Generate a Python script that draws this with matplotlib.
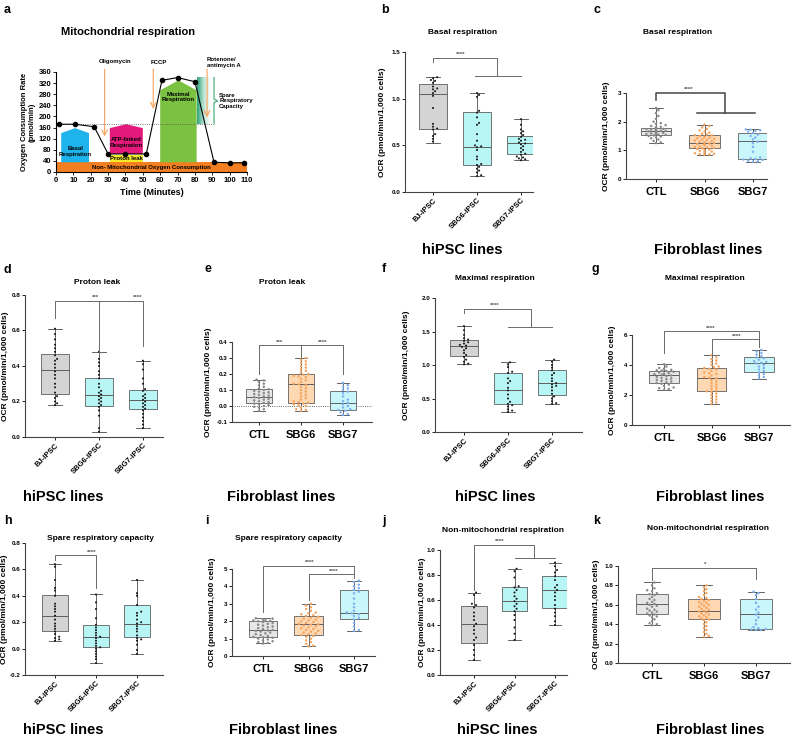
import numpy as np
import matplotlib
matplotlib.use("Agg")
import matplotlib.pyplot as plt
from matplotlib.patches import Polygon, Rectangle
from matplotlib.colors import LinearSegmentedColormap

plt.rcParams['font.family'] = ['Liberation Sans', 'DejaVu Sans']
plt.rcParams['font.weight'] = 'bold'

# ---------------- data ----------------
ipsc_groups = ['BJ-iPSC', 'SBG6-iPSC', 'SBG7-iPSC']
fibro_groups = ['CTL', 'SBG6', 'SBG7']

# Panel a: Seahorse trace
time_min = [2, 11, 22, 30, 40, 52, 61, 70, 80, 91, 100, 108]
ocr_trace = [172, 172, 163, 65, 65, 65, 330, 340, 325, 35, 33, 33]
time_ticks = [0, 10, 20, 30, 40, 50, 60, 70, 80, 90, 100, 110]
ocr_ticks = [0, 40, 80, 120, 160, 200, 240, 280, 320, 360]

# box stats per group: [whislo, q1, median, q3, whishi]
basal_ipsc_box = [[0.53, 0.68, 1.05, 1.16, 1.23], [0.17, 0.29, 0.48, 0.86, 1.06], [0.34, 0.41, 0.52, 0.60, 0.78]]
basal_ipsc_bj = [1.23, 1.22, 1.20, 1.19, 1.17, 1.13, 1.11, 1.10, 1.08, 1.06, 1.03, 0.90, 0.73, 0.70, 0.68, 0.67, 0.62, 0.60, 0.57, 0.54]
basal_ipsc_sbg6 = [1.06, 1.04, 1.02, 0.87, 0.85, 0.80, 0.74, 0.72, 0.62, 0.55, 0.50, 0.49, 0.48, 0.45, 0.38, 0.35, 0.30, 0.29, 0.27, 0.25, 0.23, 0.21, 0.18, 0.17]
basal_ipsc_sbg7 = [0.78, 0.72, 0.67, 0.65, 0.63, 0.61, 0.59, 0.57, 0.56, 0.55, 0.53, 0.52, 0.51, 0.49, 0.47, 0.45, 0.43, 0.41, 0.40, 0.38, 0.37, 0.36, 0.35, 0.34]

basal_fib_box = [[1.25, 1.55, 1.68, 1.78, 2.48], [0.85, 1.07, 1.25, 1.52, 1.90], [0.60, 0.70, 1.32, 1.59, 1.73]]
basal_fib_ctl = [2.48, 2.40, 2.30, 2.20, 2.10, 2.00, 1.95, 1.92, 1.88, 1.85, 1.82, 1.80, 1.79, 1.78, 1.77, 1.76, 1.75, 1.74, 1.73, 1.72, 1.71, 1.70, 1.69, 1.68, 1.68, 1.67, 1.66, 1.65, 1.64, 1.63, 1.62, 1.61, 1.60, 1.59, 1.58, 1.57, 1.56, 1.55, 1.54, 1.52, 1.50, 1.48, 1.45, 1.42, 1.38, 1.33, 1.28, 1.25]
basal_fib_sbg6 = [1.90, 1.85, 1.80, 1.75, 1.70, 1.66, 1.62, 1.58, 1.55, 1.53, 1.52, 1.50, 1.48, 1.46, 1.44, 1.42, 1.40, 1.38, 1.36, 1.34, 1.32, 1.30, 1.28, 1.26, 1.25, 1.24, 1.22, 1.20, 1.18, 1.16, 1.14, 1.12, 1.10, 1.08, 1.07, 1.05, 1.03, 1.00, 0.98, 0.96, 0.94, 0.92, 0.90, 0.88, 0.87, 0.86, 0.85]
basal_fib_sbg7 = [1.73, 1.72, 1.70, 1.68, 1.65, 1.60, 1.55, 1.50, 1.45, 1.38, 1.30, 1.25, 1.12, 0.95, 0.75, 0.72, 0.70, 0.68, 0.66, 0.64, 0.62, 0.60]

leak_ipsc_box = [[0.18, 0.24, 0.375, 0.47, 0.61], [0.03, 0.175, 0.235, 0.335, 0.48], [0.05, 0.155, 0.21, 0.265, 0.43]]
leak_ipsc_bj = [0.61, 0.58, 0.55, 0.52, 0.50, 0.48, 0.46, 0.44, 0.43, 0.41, 0.39, 0.37, 0.35, 0.33, 0.30, 0.28, 0.25, 0.23, 0.22, 0.20, 0.19, 0.18]
leak_ipsc_sbg6 = [0.48, 0.44, 0.42, 0.40, 0.37, 0.35, 0.33, 0.30, 0.28, 0.26, 0.25, 0.24, 0.23, 0.22, 0.21, 0.20, 0.19, 0.18, 0.17, 0.15, 0.12, 0.05, 0.03]
leak_ipsc_sbg7 = [0.43, 0.41, 0.38, 0.33, 0.30, 0.27, 0.26, 0.24, 0.23, 0.22, 0.21, 0.20, 0.19, 0.18, 0.17, 0.16, 0.15, 0.13, 0.11, 0.09, 0.07, 0.05]

leak_fib_box = [[-0.03, 0.02, 0.055, 0.105, 0.165], [-0.03, 0.02, 0.135, 0.20, 0.30], [-0.055, -0.025, 0.02, 0.095, 0.145]]
leak_fib_ctl = [0.165, 0.16, 0.15, 0.14, 0.13, 0.12, 0.11, 0.105, 0.10, 0.095, 0.09, 0.085, 0.08, 0.075, 0.07, 0.065, 0.06, 0.055, 0.05, 0.045, 0.04, 0.035, 0.03, 0.025, 0.02, 0.015, 0.01, 0.005, 0.0, -0.005, -0.01, -0.02, -0.03]
leak_fib_sbg6 = [0.30, 0.29, 0.28, 0.27, 0.26, 0.25, 0.24, 0.23, 0.22, 0.21, 0.20, 0.195, 0.19, 0.185, 0.18, 0.17, 0.16, 0.15, 0.14, 0.135, 0.13, 0.12, 0.11, 0.10, 0.09, 0.08, 0.07, 0.06, 0.05, 0.04, 0.03, 0.025, 0.02, 0.015, 0.01, 0.005, 0.0, -0.01, -0.02, -0.025, -0.03]
leak_fib_sbg7 = [0.145, 0.13, 0.12, 0.11, 0.10, 0.09, 0.08, 0.06, 0.04, 0.03, 0.02, 0.01, 0.0, -0.01, -0.02, -0.025, -0.03, -0.04, -0.05, -0.055]

max_ipsc_box = [[1.01, 1.14, 1.29, 1.38, 1.58], [0.30, 0.42, 0.62, 0.88, 1.04], [0.42, 0.55, 0.73, 0.93, 1.08]]
max_ipsc_bj = [1.58, 1.52, 1.45, 1.40, 1.38, 1.36, 1.34, 1.32, 1.30, 1.29, 1.27, 1.25, 1.22, 1.18, 1.15, 1.12, 1.08, 1.05, 1.02, 1.01]
max_ipsc_sbg6 = [1.04, 1.01, 0.97, 0.90, 0.88, 0.80, 0.76, 0.73, 0.66, 0.62, 0.56, 0.50, 0.45, 0.42, 0.40, 0.38, 0.34, 0.32, 0.30]
max_ipsc_sbg7 = [1.08, 1.05, 1.00, 0.96, 0.92, 0.88, 0.85, 0.80, 0.76, 0.73, 0.71, 0.69, 0.67, 0.62, 0.57, 0.53, 0.50, 0.46, 0.43, 0.42]

max_fib_box = [[2.35, 2.8, 3.35, 3.6, 4.05], [1.4, 2.27, 3.15, 3.78, 4.65], [3.1, 3.55, 4.15, 4.55, 5.0]]
max_fib_ctl = [4.05, 3.9, 3.8, 3.75, 3.7, 3.68, 3.65, 3.62, 3.6, 3.55, 3.5, 3.45, 3.42, 3.4, 3.38, 3.35, 3.3, 3.25, 3.2, 3.15, 3.1, 3.05, 3.0, 2.95, 2.9, 2.85, 2.8, 2.75, 2.7, 2.6, 2.5, 2.45, 2.4, 2.35]
max_fib_sbg6 = [4.65, 4.5, 4.4, 4.3, 4.2, 4.1, 4.0, 3.9, 3.85, 3.8, 3.75, 3.7, 3.6, 3.5, 3.45, 3.4, 3.3, 3.2, 3.15, 3.1, 3.0, 2.9, 2.8, 2.7, 2.6, 2.5, 2.4, 2.3, 2.25, 2.2, 2.1, 2.0, 1.9, 1.8, 1.7, 1.6, 1.5, 1.4]
max_fib_sbg7 = [5.0, 4.9, 4.8, 4.7, 4.6, 4.5, 4.45, 4.35, 4.25, 4.2, 4.15, 4.1, 4.0, 3.9, 3.8, 3.7, 3.6, 3.5, 3.4, 3.3, 3.2, 3.1]

spare_ipsc_box = [[0.06, 0.135, 0.25, 0.405, 0.64], [-0.11, 0.01, 0.09, 0.18, 0.41], [-0.04, 0.09, 0.19, 0.33, 0.52]]
spare_ipsc_bj = [0.64, 0.62, 0.52, 0.46, 0.44, 0.40, 0.34, 0.32, 0.30, 0.28, 0.25, 0.22, 0.19, 0.17, 0.15, 0.13, 0.11, 0.09, 0.08, 0.07, 0.06]
spare_ipsc_sbg6 = [0.41, 0.35, 0.30, 0.23, 0.18, 0.16, 0.14, 0.12, 0.10, 0.09, 0.08, 0.06, 0.04, 0.02, 0.01, 0.0, -0.02, -0.04, -0.06, -0.08, -0.11]
spare_ipsc_sbg7 = [0.52, 0.42, 0.40, 0.33, 0.28, 0.27, 0.25, 0.22, 0.20, 0.19, 0.17, 0.15, 0.13, 0.10, 0.08, 0.07, 0.06, 0.03, -0.01, -0.04]

spare_fib_box = [[0.72, 1.08, 1.47, 2.0, 2.17], [0.56, 1.2, 1.82, 2.3, 3.0], [1.45, 2.15, 2.5, 3.78, 4.33]]
spare_fib_ctl = [2.17, 2.15, 2.12, 2.1, 2.08, 2.05, 2.02, 2.0, 1.95, 1.9, 1.85, 1.8, 1.75, 1.7, 1.65, 1.6, 1.55, 1.5, 1.47, 1.44, 1.4, 1.35, 1.3, 1.25, 1.2, 1.15, 1.1, 1.08, 1.05, 1.0, 0.95, 0.9, 0.85, 0.8, 0.75, 0.72]
spare_fib_sbg6 = [3.0, 2.9, 2.8, 2.7, 2.6, 2.5, 2.45, 2.4, 2.35, 2.3, 2.25, 2.2, 2.15, 2.1, 2.05, 2.0, 1.95, 1.9, 1.85, 1.82, 1.8, 1.75, 1.7, 1.65, 1.6, 1.55, 1.5, 1.45, 1.4, 1.35, 1.3, 1.25, 1.2, 1.15, 1.1, 1.0, 0.9, 0.8, 0.7, 0.6, 0.56]
spare_fib_sbg7 = [4.33, 4.25, 4.1, 4.0, 3.9, 3.8, 3.7, 3.6, 3.3, 3.0, 2.8, 2.6, 2.5, 2.45, 2.4, 2.3, 2.2, 2.1, 1.9, 1.7, 1.5, 1.45]

nonmito_ipsc_box = [[0.12, 0.255, 0.41, 0.555, 0.66], [0.28, 0.51, 0.59, 0.705, 0.85], [0.40, 0.535, 0.68, 0.79, 0.90]]
nonmito_ipsc_bj = [0.66, 0.64, 0.57, 0.56, 0.54, 0.50, 0.47, 0.44, 0.41, 0.39, 0.36, 0.33, 0.30, 0.28, 0.24, 0.20, 0.16, 0.12]
nonmito_ipsc_sbg6 = [0.85, 0.83, 0.78, 0.71, 0.70, 0.68, 0.66, 0.63, 0.61, 0.59, 0.57, 0.55, 0.53, 0.51, 0.48, 0.44, 0.38, 0.33, 0.28]
nonmito_ipsc_sbg7 = [0.90, 0.87, 0.84, 0.82, 0.79, 0.76, 0.72, 0.70, 0.68, 0.66, 0.63, 0.60, 0.56, 0.53, 0.50, 0.47, 0.43, 0.40]

nonmito_fib_box = [[0.39, 0.51, 0.605, 0.715, 0.83], [0.27, 0.45, 0.535, 0.655, 0.80], [0.34, 0.35, 0.505, 0.655, 0.735]]
nonmito_fib_ctl = [0.83, 0.80, 0.77, 0.75, 0.74, 0.72, 0.71, 0.70, 0.68, 0.66, 0.65, 0.63, 0.62, 0.61, 0.60, 0.59, 0.58, 0.56, 0.55, 0.54, 0.53, 0.52, 0.51, 0.50, 0.49, 0.48, 0.47, 0.45, 0.43, 0.41, 0.40, 0.39]
nonmito_fib_sbg6 = [0.80, 0.78, 0.76, 0.74, 0.72, 0.70, 0.68, 0.67, 0.66, 0.65, 0.64, 0.63, 0.62, 0.61, 0.60, 0.59, 0.58, 0.57, 0.56, 0.55, 0.54, 0.53, 0.52, 0.51, 0.50, 0.49, 0.48, 0.47, 0.46, 0.45, 0.44, 0.42, 0.40, 0.38, 0.36, 0.34, 0.32, 0.30, 0.28, 0.27]
nonmito_fib_sbg7 = [0.735, 0.72, 0.70, 0.66, 0.62, 0.58, 0.55, 0.52, 0.50, 0.47, 0.44, 0.40, 0.37, 0.36, 0.35, 0.345, 0.34, 0.34]

# ---------------- figure ----------------
W, H = 794, 746
fig = plt.figure(figsize=(W / 100, H / 100), dpi=100)
fig.patch.set_facecolor('white')


def ftext(x, y, s, **kw):
    fig.text(x / W, 1 - y / H, s, **kw)


# ---------- panel a ----------
axa = fig.add_axes([56 / W, 1 - 172 / H, (247 - 56) / W, (172 - 72) / H])
for s in ['top', 'right']:
    axa.spines[s].set_visible(False)
for s in ['left', 'bottom']:
    axa.spines[s].set_linewidth(0.8)
axa.set_xticks(time_ticks)
axa.set_yticks(ocr_ticks)
axa.tick_params(labelsize=5.5, width=0.6, length=2, pad=1.5)
for lab in axa.get_xticklabels() + axa.get_yticklabels():
    lab.set_fontweight('bold')


def pent(x0, x1, y0, ys, yp, color):
    return Polygon([(x0, y0), (x1, y0), (x1, ys), ((x0 + x1) / 2, yp), (x0, ys)],
                   closed=True, facecolor=color, edgecolor='none', zorder=1)


axa.add_patch(Rectangle((0, 0), 110, 35, facecolor='#f47f20', edgecolor='none', zorder=1, clip_on=False))
axa.add_patch(pent(3, 19, 35, 140, 158, '#1eb3ea'))
axa.add_patch(pent(31, 50, 65, 158, 172, '#e3197b'))
axa.add_patch(Rectangle((31, 35), 19, 28, facecolor='#f2ea29', edgecolor='none', zorder=1))
axa.add_patch(pent(60, 81, 35, 294, 330, '#7cc242'))
cmap_sp = LinearSegmentedColormap.from_list('sp', ['#2ea37a', '#bfe6d6', '#ffffff'])
axa.imshow(np.linspace(0, 1, 50).reshape(1, -1), extent=(81, 89, 172, 340), aspect='auto',
           cmap=cmap_sp, zorder=1)
axa.set_xlim(0, 110)
axa.set_ylim(0, 360)
axa.plot([91, 91, 93, 91, 91], [172, 250, 256, 262, 340], color='#3ba66c', lw=0.8, zorder=2)
axa.plot([0, 90], [172, 172], color='#555555', lw=0.6, ls=':', zorder=2)
axa.plot(time_min, ocr_trace, color='black', lw=0.8, marker='o', ms=3, zorder=3)

axa.text(11, 75, 'Basal\nRespiration', fontsize=4.3, ha='center', va='center', zorder=4)
axa.text(40.5, 106, 'ATP-linked\nRespiration', fontsize=4.3, ha='center', va='center', zorder=4)
axa.text(40.5, 48, 'Proton leak', fontsize=4.3, ha='center', va='center', zorder=4)
axa.text(70.5, 270, 'Maximal\nRespiration', fontsize=4.3, ha='center', va='center', zorder=4)
axa.text(55, 17, 'Non- Mitochondrial Oxygen Consumption', fontsize=4.3, ha='center', va='center', zorder=4)
axa.text(94, 256, 'Spare\nRespiratory\nCapacity', fontsize=4.3, ha='left', va='center', zorder=4)

arrow_kw = dict(arrowstyle='->', color='#f7a25a', lw=0.8)
axa.annotate('', xy=(28, 118), xytext=(28, 380), arrowprops=arrow_kw, annotation_clip=False)
axa.annotate('', xy=(56, 217), xytext=(56, 380), arrowprops=arrow_kw, annotation_clip=False)
axa.annotate('', xy=(87, 187), xytext=(87, 380), arrowprops=arrow_kw, annotation_clip=False)
axa.text(34, 396, 'Oligomycin', fontsize=4.3, ha='center', va='center', clip_on=False)
axa.text(59, 396, 'FCCP', fontsize=4.3, ha='center', va='center', clip_on=False)
axa.text(87, 395, 'Rotenone/\nantimycin A', fontsize=4.3, ha='left', va='center', clip_on=False)
axa.set_xlabel('Time (Minutes)', fontsize=6.5, fontweight='bold', labelpad=3)
axa.set_ylabel('Oxygen Consumption Rate\n(pmol/min)', fontsize=5.5, fontweight='bold', labelpad=2)
ftext(128, 32, 'Mitochondrial respiration', fontsize=8, fontweight='bold', ha='center', va='center')

# ---------- box panels ----------
ipsc_face = ['#d4d4d4', '#b8f6f6', '#b8f6f6']
ipsc_dot = ['#1a1a1a', '#1a1a1a', '#1a1a1a']
fib_face = ['#e6e6e6', '#fdd8b3', '#c9f6fa']
fib_dot = ['#8a8a8a', '#f5a55f', '#7eb0ef']


def swarm_x(vals, pos, xpx, ypx, d, maxoff):
    vals = np.asarray(vals, dtype=float)
    order = np.argsort(vals)
    placed = []
    xs = np.zeros(len(vals))
    cands = [0]
    for k in range(1, 30):
        cands += [k * d * 0.8, -k * d * 0.8]
    for i in order:
        y = vals[i] * ypx
        best = cands[0]
        for off in cands:
            if abs(off) > maxoff:
                continue
            ok = True
            for (px, py) in placed:
                if (off - px) ** 2 + (y - py) ** 2 < d * d:
                    ok = False
                    break
            if ok:
                best = off
                break
        placed.append((best, y))
        xs[i] = pos + best / xpx
    return xs


def box_panel(left, right, ytop, ybot, c0, c2, ylim, yticks, ytlabels, ylab_x, box, pts,
              kind, brackets, stars, bracket_color='#6a6a6a', bracket_lw=0.7, zero_line=False):
    sp = (c2 - c0) / 2
    ax = fig.add_axes([left / W, 1 - ybot / H, (right - left) / W, (ybot - ytop) / H])
    ax.set_xlim((left - c0) / sp, 2 + (right - c2) / sp)
    ax.set_ylim(*ylim)
    ypx = (ybot - ytop) / (ylim[1] - ylim[0])
    faces = ipsc_face if kind == 'ipsc' else fib_face
    dots = ipsc_dot if kind == 'ipsc' else fib_dot
    stats = [dict(whislo=b[0], q1=b[1], med=b[2], q3=b[3], whishi=b[4], fliers=[]) for b in box]
    ax.bxp(stats, positions=[0, 1, 2], widths=0.62, capwidths=0.3, patch_artist=True, showfliers=False,
           boxprops=dict(edgecolor='#5f5f5f', linewidth=0.6),
           medianprops=dict(color='#5f5f5f', linewidth=0.7),
           whiskerprops=dict(color='#4a4a4a', linewidth=0.6),
           capprops=dict(color='#4a4a4a', linewidth=0.6))
    for i, patch in enumerate(ax.patches):
        patch.set_facecolor(faces[i])
        patch.set_zorder(1)
    if zero_line:
        ax.axhline(0, color='#333333', lw=0.6, ls=':', zorder=0.5)
    d = 2.6 if kind == 'ipsc' else 3.0
    maxoff = 6 if kind == 'ipsc' else 11
    for i, v in enumerate(pts):
        xs = swarm_x(v, i, sp, ypx, d, maxoff)
        ax.scatter(xs, v, s=2.2 if kind == 'ipsc' else 3.2, color=dots[i], edgecolors='none', zorder=3)
    for seg in brackets:
        xs_, ys_ = zip(*seg)
        ax.plot(xs_, ys_, color=bracket_color, lw=bracket_lw, clip_on=False, zorder=4)
    for (sx, sy, st) in stars:
        ax.text(sx, sy, st, fontsize=4.5, ha='center', va='bottom', color='#555555', clip_on=False)
    for s in ['top', 'right']:
        ax.spines[s].set_visible(False)
    for s in ['left', 'bottom']:
        ax.spines[s].set_linewidth(0.8)
        ax.spines[s].set_color('#444444')
    ax.set_yticks(yticks)
    ax.set_yticklabels(ytlabels, fontsize=4.5, fontweight='bold')
    ax.set_xticks([0, 1, 2])
    ax.tick_params(width=0.6, length=2, pad=1.5)
    if kind == 'ipsc':
        ax.set_xticklabels(ipsc_groups, rotation=45, ha='right', rotation_mode='anchor',
                           fontsize=5.5, fontweight='bold')
    else:
        ax.set_xticklabels(fibro_groups, fontsize=8, fontweight='bold')
        ax.tick_params(axis='x', pad=4)
    ax.set_ylabel('OCR (pmol/min/1,000 cells)', fontsize=6, fontweight='bold', va='center')
    ax.yaxis.set_label_coords((ylab_x - left) / (right - left), 0.5)
    return ax


# b
box_panel(405, 533, 52, 192, 433, 521, (0, 1.5), [0, 0.5, 1.0, 1.5], ['0.0', '0.5', '1.0', '1.5'],
          382, basal_ipsc_box, [basal_ipsc_bj, basal_ipsc_sbg6, basal_ipsc_sbg7], 'ipsc',
          [[(0, 1.39), (0, 1.44), (1.45, 1.44), (1.45, 1.24)], [(0.95, 1.24), (2, 1.24)]],
          [(0.62, 1.445, '****')])
ftext(463, 33, 'Basal respiration', fontsize=6, fontweight='bold', ha='center', va='center')
# c
box_panel(626, 767, 93, 179, 656, 753, (0, 3), [0, 1, 2, 3], ['0', '1', '2', '3'],
          606, basal_fib_box, [basal_fib_ctl, basal_fib_sbg6, basal_fib_sbg7], 'fib',
          [[(0, 2.77), (0, 3.0), (1.43, 3.0), (1.43, 2.3)], [(0.84, 2.3), (2.05, 2.3)]],
          [(0.67, 3.02, '****')], bracket_color='#444444', bracket_lw=1.1)
ftext(678, 33, 'Basal respiration', fontsize=6, fontweight='bold', ha='center', va='center')
# d
box_panel(25, 163, 295, 437, 55, 143, (0, 0.8), [0, 0.2, 0.4, 0.6, 0.8],
          ['0.0', '0.2', '0.4', '0.6', '0.8'],
          6, leak_ipsc_box, [leak_ipsc_bj, leak_ipsc_sbg6, leak_ipsc_sbg7], 'ipsc',
          [[(0, 0.668), (0, 0.768), (2, 0.768), (2, 0.51)], [(1, 0.768), (1, 0.48)]],
          [(0.92, 0.772, '***'), (1.87, 0.772, '****')])
ftext(97, 282, 'Proton leak', fontsize=6, fontweight='bold', ha='center', va='center')
# e
box_panel(232, 372, 342, 422, 259, 343, (-0.1, 0.4), [-0.1, 0.0, 0.1, 0.2, 0.3, 0.4],
          ['-0.1', '0.0', '0.1', '0.2', '0.3', '0.4'],
          209, leak_fib_box, [leak_fib_ctl, leak_fib_sbg6, leak_fib_sbg7], 'fib',
          [[(0, 0.20), (0, 0.38), (1, 0.38), (1, 0.306)], [(1, 0.38), (2, 0.38), (2, 0.20)]],
          [(0.49, 0.383, '***'), (1.52, 0.383, '****')], zero_line=True)
ftext(282, 282, 'Proton leak', fontsize=6, fontweight='bold', ha='center', va='center')
# f
box_panel(435, 582, 298, 432, 464, 552, (0, 2.0), [0, 0.5, 1.0, 1.5, 2.0],
          ['0.0', '0.5', '1.0', '1.5', '2.0'],
          406, max_ipsc_box, [max_ipsc_bj, max_ipsc_sbg6, max_ipsc_sbg7], 'ipsc',
          [[(0, 1.77), (0, 1.84), (1.52, 1.84), (1.52, 1.57)], [(1, 1.57), (2, 1.57)]],
          [(0.7, 1.845, '****')])
ftext(495, 279, 'Maximal respiration', fontsize=6, fontweight='bold', ha='center', va='center')
# g
box_panel(632, 790, 335, 425, 664, 759, (0, 6), [0, 2, 4, 6], ['0', '2', '4', '6'],
          612, max_fib_box, [max_fib_ctl, max_fib_sbg6, max_fib_sbg7], 'fib',
          [[(0, 4.8), (0, 6.27), (2, 6.27), (2, 5.22)], [(1, 4.67), (1, 5.73), (2, 5.73), (2, 5.22)]],
          [(0.98, 6.3, '****'), (1.54, 5.76, '****')])
ftext(705, 278, 'Maximal respiration', fontsize=6, fontweight='bold', ha='center', va='center')
# h
box_panel(25, 163, 543, 675, 55, 137, (-0.2, 0.8), [-0.2, 0.0, 0.2, 0.4, 0.6, 0.8],
          ['-0.2', '0.0', '0.2', '0.4', '0.6', '0.8'],
          5, spare_ipsc_box, [spare_ipsc_bj, spare_ipsc_sbg6, spare_ipsc_sbg7], 'ipsc',
          [[(0, 0.67), (0, 0.71), (1, 0.71), (1, 0.46)]],
          [(0.9, 0.713, '****')])
ftext(100, 538, 'Spare respiratory capacity', fontsize=6, fontweight='bold', ha='center', va='center')
# i
box_panel(232, 375, 569, 656, 263, 354, (0, 5), [0, 1, 2, 3, 4, 5], ['0', '1', '2', '3', '4', '5'],
          213, spare_fib_box, [spare_fib_ctl, spare_fib_sbg6, spare_fib_sbg7], 'fib',
          [[(0, 2.54), (0, 5.19), (2, 5.19), (2, 4.75)], [(1, 3.21), (1, 4.69), (2, 4.69), (2, 4.46)]],
          [(1.03, 5.23, '****'), (1.55, 4.73, '****')])
ftext(288, 538, 'Spare respiratory capacity', fontsize=6, fontweight='bold', ha='center', va='center')
# j
box_panel(440, 567, 550, 675, 474, 555, (0, 1.0), [0, 0.2, 0.4, 0.6, 0.8, 1.0],
          ['0.0', '0.2', '0.4', '0.6', '0.8', '1.0'],
          423, nonmito_ipsc_box, [nonmito_ipsc_bj, nonmito_ipsc_sbg6, nonmito_ipsc_sbg7], 'ipsc',
          [[(0, 0.68), (0, 1.04), (1.48, 1.04), (1.48, 0.94)], [(1, 0.94), (2, 0.94)]],
          [(0.64, 1.045, '****')])
ftext(503, 531, 'Non-mitochondrial respiration', fontsize=6, fontweight='bold', ha='center', va='center')
# k
box_panel(618, 790, 566, 663, 652, 756, (0, 1.0), [0, 0.2, 0.4, 0.6, 0.8, 1.0],
          ['0.0', '0.2', '0.4', '0.6', '0.8', '1.0'],
          596, nonmito_fib_box, [nonmito_fib_ctl, nonmito_fib_sbg6, nonmito_fib_sbg7], 'fib',
          [[(0, 0.855), (0, 0.976), (2, 0.976), (2, 0.87)]],
          [(1.02, 0.99, '*')])
ftext(708, 529, 'Non-mitochondrial respiration', fontsize=6, fontweight='bold', ha='center', va='center')

# group labels
big = dict(fontsize=10.5, fontweight='bold', ha='center', va='center')
ftext(462, 250, 'hiPSC lines', **big)
ftext(708, 250, 'Fibroblast lines', **big)
ftext(63, 497, 'hiPSC lines', **big)
ftext(281, 497, 'Fibroblast lines', **big)
ftext(495, 497, 'hiPSC lines', **big)
ftext(710, 497, 'Fibroblast lines', **big)
ftext(63, 730, 'hiPSC lines', **big)
ftext(283, 730, 'Fibroblast lines', **big)
ftext(497, 730, 'hiPSC lines', **big)
ftext(710, 730, 'Fibroblast lines', **big)

# panel letters
letters = [('a', 4, 10), ('b', 381, 10), ('c', 593, 10), ('d', 4, 270), ('e', 205, 269),
           ('f', 382, 269), ('g', 592, 269), ('h', 4, 521), ('i', 205, 521), ('j', 382, 521), ('k', 593, 521)]
for s, x, y in letters:
    ftext(x, y, s, fontsize=9, fontweight='bold', ha='left', va='center')

fig.savefig('out.png', dpi=100, facecolor='white')
